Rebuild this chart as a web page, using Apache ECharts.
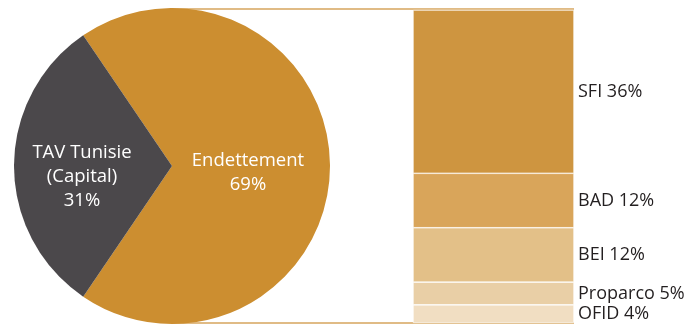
<!DOCTYPE html>
<html>
<head>
<meta charset="utf-8">
<script src="https://cdn.jsdelivr.net/npm/echarts@6/dist/echarts.min.js"></script>
<style>
  html, body { margin: 0; padding: 0; background: #fff; }
  #chart { width: 700px; height: 325px; }
</style>
</head>
<body>
<div id="chart"></div>
<script>
// pie: capital vs debt
const pieNames = ["Endettement", "TAV Tunisie\n(Capital)"];
const pieValues = [69, 31];
const pieColors = ["#CC8E30", "#4B484B"];

// breakdown of the debt
const lenders = ["SFI", "BAD", "BEI", "Proparco", "OFID"];
const lenderValues = [36, 12, 12, 5, 4];
const lenderColors = ["#CE9540", "#D9A55A", "#E3C088", "#E9CFA6", "#F1DEC2"];

const chart = echarts.init(document.getElementById("chart"));

const barSeries = lenders.map((name, i) => ({
  name: name,
  type: "bar",
  stack: "debt",
  barWidth: "100%",
  data: [lenderValues[i]],
  itemStyle: { color: lenderColors[i], borderColor: "#fff", borderWidth: 0.6 },
  label: {
    show: true,
    position: "right",
    distance: 4,
    color: "#231F20",
    fontSize: 18,
    fontFamily: "Open Sans",
    formatter: name + " " + lenderValues[i] + "%"
  },
  silent: true
}));

const option = {
  animation: false,
  grid: { left: 413, width: 161, top: 10, bottom: 2 },
  xAxis: { type: "category", data: ["dette"], show: false },
  yAxis: { type: "value", min: 0, max: 69, inverse: true, show: false },
  graphic: [
    { type: "line", shape: { x1: 172, y1: 9, x2: 574, y2: 9 }, style: { stroke: "#D6A45C", lineWidth: 1.5 } },
    { type: "line", shape: { x1: 172, y1: 323, x2: 574, y2: 323 }, style: { stroke: "#D6A45C", lineWidth: 1.5 } }
  ],
  series: [
    {
      type: "pie",
      center: [172, 166],
      radius: 158,
      startAngle: 124.2,
      clockwise: true,
      silent: true,
      label: {
        show: true,
        position: "inside",
        color: "#fff",
        fontSize: 18.5,
        lineHeight: 24,
        fontFamily: "Open Sans",
        formatter: p => p.name + "\n" + p.value + "%"
      },
      labelLine: { show: false },
      data: pieNames.map((n, i) => ({
        name: n,
        value: pieValues[i],
        itemStyle: { color: pieColors[i] },
        label: i === 1 ? { offset: [-8, 11] } : { offset: [-6, 7] }
      }))
    },
    ...barSeries
  ]
};

chart.setOption(option);
</script>
</body>
</html>
